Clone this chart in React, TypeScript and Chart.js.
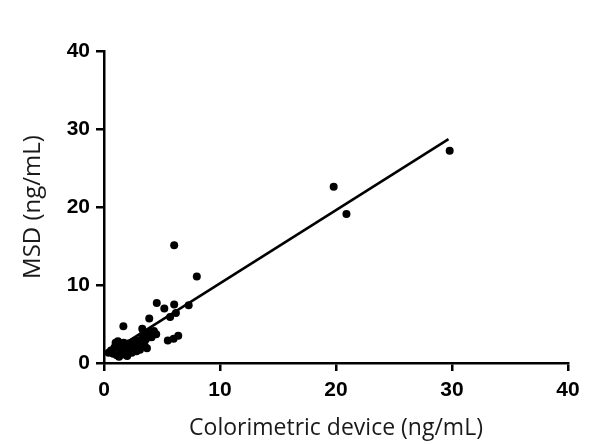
import React, { useEffect, useRef } from "react";
import { Chart, registerables } from "chart.js";

Chart.register(...registerables);

const deviceValues: number[] = [
  0.4, 0.6, 0.8, 0.9, 1.0, 1.1, 1.2, 1.3, 1.4, 1.5, 1.6, 1.7, 1.8, 1.9, 2.0, 2.1, 2.2, 2.3,
  2.4, 2.5, 2.6, 2.7, 2.8, 2.9, 3.0, 3.1, 3.2, 3.3, 3.3, 3.4, 3.5, 3.6, 3.7, 3.8, 4.0, 4.1,
  4.3, 4.5, 1.67, 3.9, 4.55, 5.2, 6.05, 5.7, 6.2, 7.3, 5.5, 6.0, 6.4, 6.05, 8.0, 19.8, 20.9, 29.8,
];
const msdValues: number[] = [
  1.3, 1.6, 1.2, 2.0, 2.6, 1.0, 2.8, 0.8, 1.8, 2.3, 1.1, 2.6, 1.4, 2.0, 0.9, 2.5, 1.6, 2.1,
  1.3, 2.7, 1.9, 2.3, 1.5, 2.9, 2.0, 1.7, 2.6, 4.4, 3.2, 3.8, 2.2, 3.0, 1.9, 3.5, 4.0, 3.3,
  4.1, 3.7, 4.7, 5.7, 7.7, 7.0, 7.5, 5.9, 6.4, 7.4, 2.9, 3.1, 3.5, 15.1, 11.1, 22.6, 19.1, 27.2,
];
const fitX: number[] = [0.4, 29.7];
const fitY: number[] = [1.2, 28.7];
const tickValues: number[] = [0, 10, 20, 30, 40];
const xTitle = "Colorimetric device (ng/mL)";
const yTitle = "MSD (ng/mL)";

export default function App() {
  const ref = useRef<HTMLCanvasElement | null>(null);
  useEffect(() => {
    if (!ref.current) return;
    const tickFont = { family: "'Liberation Sans', Arial, sans-serif", size: 21, weight: "bold" as const };
    const axisCommon = (isX: boolean) => ({
      type: "linear" as const,
      min: 0,
      max: 40,
      afterBuildTicks: (scale: any) => {
        scale.ticks = tickValues.map((v) => ({ value: v }));
      },
      ticks: {
        color: "#000",
        font: tickFont,
        padding: isX ? 7 : 6,
        maxRotation: 0,
        autoSkip: false,
      },
      grid: {
        display: true,
        drawOnChartArea: false,
        drawTicks: true,
        tickLength: 8,
        color: "#000",
        lineWidth: 2.5,
      },
      border: { display: true, color: "#000", width: 2.5 },
      title: {
        display: true,
        text: isX ? xTitle : yTitle,
        color: "#1a1a1a",
        font: { family: "'Open Sans', sans-serif", size: isX ? 23 : 24, weight: "normal" as const },
        padding: isX ? { top: 0, bottom: 2 } : { top: 19, bottom: 0 },
      },
      afterFit: (scale: any) => {
        if (isX) scale.height = 81;
        else scale.width = 104;
      },
    });
    const chart = new Chart(ref.current, {
      type: "scatter",
      data: {
        datasets: [
          {
            type: "line",
            data: fitX.map((x, i) => ({ x, y: fitY[i] })),
            borderColor: "#000",
            borderWidth: 2.5,
            pointRadius: 0,
            fill: false,
            order: 2,
          },
          {
            type: "scatter",
            data: deviceValues.map((x, i) => ({ x, y: msdValues[i] })),
            backgroundColor: "#000",
            borderColor: "#000",
            pointRadius: 4,
            pointBorderWidth: 0,
            order: 1,
          },
        ],
      },
      options: {
        responsive: false,
        animation: false,
        layout: { padding: { left: 0, right: 41, top: 51, bottom: 0 } },
        plugins: { legend: { display: false }, tooltip: { enabled: false } },
        scales: {
          x: axisCommon(true) as any,
          y: axisCommon(false) as any,
        },
      },
    });
    return () => chart.destroy();
  }, []);
  return (
    <div style={{ position: "fixed", left: 0, top: 0, width: 609, height: 444, background: "#fff" }}>
      <canvas ref={ref} width={609} height={444} />
    </div>
  );
}
